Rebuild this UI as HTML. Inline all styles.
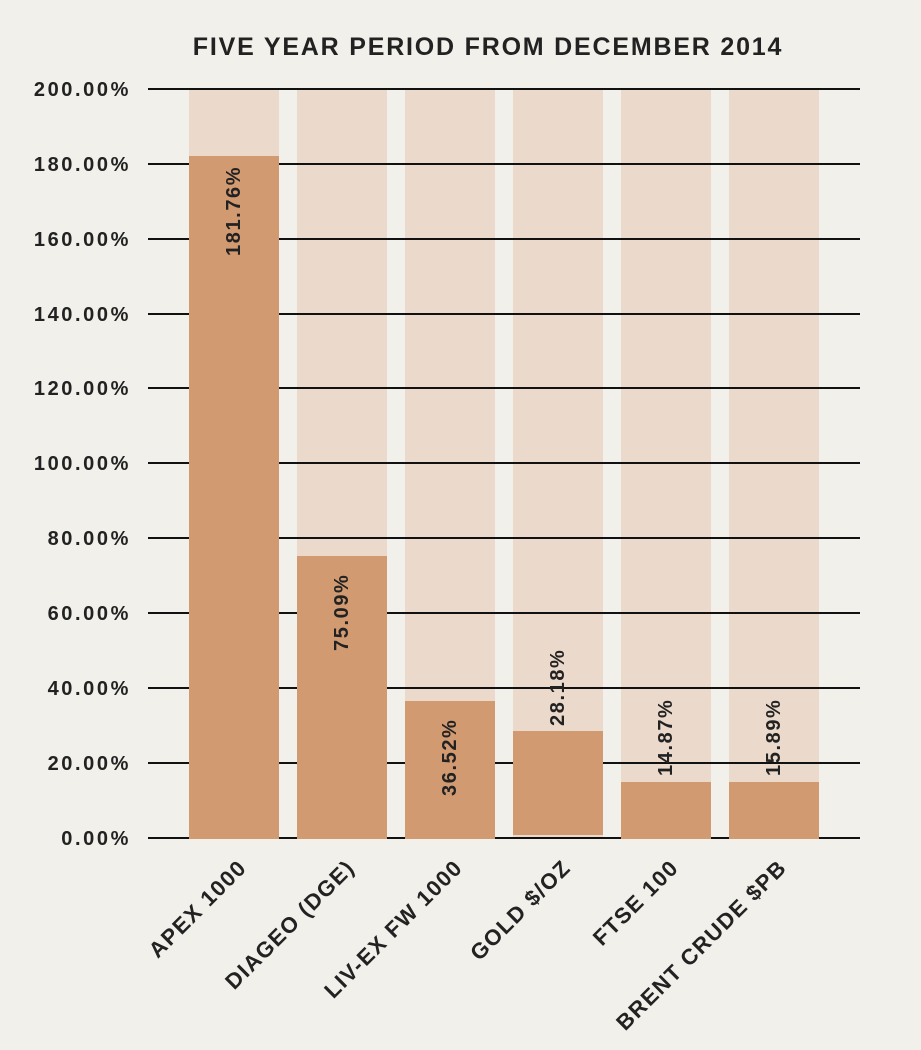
<!DOCTYPE html>
<html style="overflow:hidden;height:1050px"><head><meta charset="utf-8"><style>
body{margin:0;width:921px;height:1050px;background:#f2f0eb;position:relative;overflow:hidden;font-family:"Liberation Sans",sans-serif;color:#1a1a1a}
.t{position:absolute;top:33px;left:0;width:976px;text-align:center;font-size:25px;letter-spacing:1.8px;font-weight:bold;color:#222}
.yl{position:absolute;right:790px;font-size:20px;letter-spacing:2.6px;font-weight:bold;color:#222;line-height:20px}
.g{position:absolute;left:148px;width:712px;height:1.5px;background:#111}
.bg{position:absolute;top:89px;height:749px;width:90px;background:#ebdacb}
.b{position:absolute;width:90px;background:#d29a71}
.v{position:absolute;font-size:20px;font-weight:bold;letter-spacing:1.6px;transform:rotate(-90deg);transform-origin:left top;white-space:nowrap;color:#222}
.x{position:absolute;font-size:22px;font-weight:bold;letter-spacing:1.4px;white-space:nowrap;transform-origin:right center;transform:rotate(-45deg);text-align:right;width:300px;line-height:22px;color:#222}
</style></head><body>
<div class="t">FIVE YEAR PERIOD FROM DECEMBER 2014</div>
<div class="bg" style="left:189px"></div><div class="bg" style="left:297px"></div><div class="bg" style="left:405px"></div><div class="bg" style="left:513px"></div><div class="bg" style="left:621px"></div><div class="bg" style="left:729px"></div>
<div class="g" style="top:88px"></div><div class="g" style="top:163px"></div><div class="g" style="top:238px"></div><div class="g" style="top:313px"></div><div class="g" style="top:387px"></div><div class="g" style="top:462px"></div><div class="g" style="top:537px"></div><div class="g" style="top:612px"></div><div class="g" style="top:687px"></div><div class="g" style="top:762px"></div><div class="g" style="top:837px"></div>
<div class="yl" style="top:80px">200.00%</div><div class="yl" style="top:155px">180.00%</div><div class="yl" style="top:230px">160.00%</div><div class="yl" style="top:305px">140.00%</div><div class="yl" style="top:379px">120.00%</div><div class="yl" style="top:454px">100.00%</div><div class="yl" style="top:529px">80.00%</div><div class="yl" style="top:604px">60.00%</div><div class="yl" style="top:679px">40.00%</div><div class="yl" style="top:754px">20.00%</div><div class="yl" style="top:829px">0.00%</div>
<div class="b" style="left:189px;top:156px;height:683px"></div>
<div class="b" style="left:297px;top:556px;height:283px"></div>
<div class="b" style="left:405px;top:701px;height:138px"></div>
<div class="b" style="left:513px;top:731px;height:104px"></div>
<div class="b" style="left:621px;top:782px;height:57px"></div>
<div class="b" style="left:729px;top:782px;height:57px"></div>
<div class="v" style="left:223px;top:256px">181.76%</div>
<div class="v" style="left:331px;top:651px">75.09%</div>
<div class="v" style="left:439px;top:796px">36.52%</div>
<div class="v" style="left:547px;top:726px">28.18%</div>
<div class="v" style="left:655px;top:776px">14.87%</div>
<div class="v" style="left:763px;top:776px">15.89%</div>
<div class="x" style="left:-57px;top:853px">APEX 1000</div>
<div class="x" style="left:51px;top:853px">DIAGEO (DGE)</div>
<div class="x" style="left:159px;top:853px">LIV-EX FW 1000</div>
<div class="x" style="left:267px;top:853px">GOLD $/OZ</div>
<div class="x" style="left:375px;top:853px">FTSE 100</div>
<div class="x" style="left:483px;top:853px">BRENT CRUDE $PB</div>
</body></html>
